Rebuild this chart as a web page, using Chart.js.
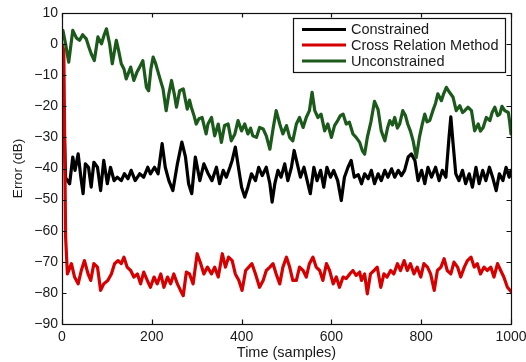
<!DOCTYPE html>
<html>
<head>
<meta charset="utf-8">
<script src="https://cdn.jsdelivr.net/npm/chart.js@4.4.1/dist/chart.umd.min.js"></script>
<style>
  html, body { margin: 0; padding: 0; background: #ffffff; }
  #c { display: block; }
</style>
</head>
<body>
<canvas id="c" width="526" height="362"></canvas>
<script>
// ---------------- data ----------------
const seriesNames = ["Constrained", "Cross Relation Method", "Unconstrained"];
const xTicks = [0, 200, 400, 600, 800, 1000];
const yTicks = [-90, -80, -70, -60, -50, -40, -30, -20, -10, 0, 10];

// Constrained (black)
const constrainedX = [0, 8, 17, 24, 29, 36, 42, 47, 52, 59, 65, 71, 79, 86, 93, 101, 108, 116, 123, 132, 139, 147, 154, 163, 173, 182, 191, 197, 206, 214, 223, 230, 238, 247, 257, 267, 275, 282, 289, 297, 307, 316, 325, 334, 344, 351, 359, 366, 374, 379, 386, 394, 400, 407, 414, 422, 431, 438, 446, 455, 463, 468, 474, 481, 488, 496, 503, 511, 517, 524, 531, 539, 546, 553, 561, 568, 576, 583, 590, 598, 605, 614, 622, 629, 637, 644, 651, 660, 667, 674, 682, 689, 696, 704, 711, 719, 726, 734, 741, 749, 756, 763, 771, 778, 786, 793, 801, 808, 815, 823, 832, 840, 847, 855, 862, 866, 871, 877, 884, 892, 899, 907, 914, 922, 929, 937, 944, 952, 959, 967, 974, 982, 989, 996, 1000];
const constrainedY = [-1, -43, -44.9, -36.3, -40.6, -35.3, -42.8, -48.1, -38.5, -39.6, -46, -38, -39.6, -47.1, -37.4, -44.9, -39.6, -43.9, -42.8, -43.9, -41.7, -43.3, -40.6, -43.9, -41.7, -42.8, -39.6, -41.7, -39.6, -41.7, -32, -39.6, -43.9, -47.1, -38.5, -31.5, -36.3, -44.9, -48.1, -36.3, -43.9, -38.5, -41.5, -43.9, -39.6, -44.9, -40.6, -42.8, -39.6, -37.4, -33.1, -40.6, -46, -49.2, -46, -41.7, -43.9, -39.6, -42.3, -39.6, -44.9, -50.8, -44.9, -40.6, -42.8, -38.5, -43.9, -39.6, -34.2, -38.5, -42.8, -39.6, -43.9, -48.1, -39.6, -43.9, -40.6, -46, -39.6, -42.8, -40.6, -43.9, -50.3, -42.8, -39.6, -37.4, -42.8, -42, -44.9, -41.7, -43.3, -40.6, -44.9, -41.7, -43.9, -40.6, -42.8, -40.1, -42.8, -40.6, -42.3, -40.6, -36.3, -35.3, -37.4, -43.9, -40.6, -44.9, -39.6, -42.8, -39.6, -43.9, -40.6, -42.8, -29.9, -23.4, -32, -41.7, -43.9, -40.6, -44.9, -41.7, -46, -39.6, -44.9, -40.6, -43.9, -39.6, -42.8, -47.1, -41.7, -43.9, -39.6, -42.8, -40.6];

// Cross Relation Method (red)
const crossX = [0, 4, 8, 12, 21, 28, 36, 43, 50, 58, 64, 71, 79, 86, 93, 102, 110, 117, 125, 132, 138, 145, 153, 160, 168, 175, 182, 190, 197, 205, 212, 220, 227, 235, 242, 249, 257, 264, 270, 277, 284, 292, 301, 309, 316, 324, 333, 340, 348, 357, 364, 371, 379, 386, 394, 401, 409, 416, 423, 431, 440, 448, 455, 463, 470, 477, 485, 492, 500, 507, 514, 522, 529, 537, 544, 551, 559, 566, 574, 581, 589, 596, 604, 611, 618, 626, 633, 641, 648, 655, 663, 667, 674, 680, 687, 695, 702, 710, 717, 724, 732, 739, 747, 754, 762, 769, 776, 784, 791, 799, 806, 814, 821, 829, 836, 844, 851, 858, 866, 873, 881, 888, 896, 903, 911, 918, 925, 932, 940, 947, 955, 962, 970, 977, 984, 992, 1000];
const crossY = [0, -2, -62, -73.9, -70.6, -74.9, -77.1, -72.8, -69.6, -73.9, -76, -70.6, -71.7, -79.2, -77.1, -76, -73.9, -70.6, -69.6, -70.6, -68.5, -71.7, -72.8, -74.9, -73.9, -77.1, -73.3, -76, -78.2, -74.9, -77.1, -73.9, -78.2, -74.9, -77.1, -73.9, -77.1, -79.2, -80.9, -73.3, -73.9, -77.1, -67.4, -70.6, -73.9, -71.7, -73.9, -71.7, -74.9, -67.4, -71.7, -68.5, -69.6, -73.9, -76, -79.2, -72.8, -71.7, -70.6, -73.9, -78.2, -76, -72.8, -71.7, -70.6, -73.9, -77.1, -71.7, -68.5, -71.7, -76, -76, -71.7, -72.8, -74.9, -70.6, -68.5, -71.7, -72.8, -76, -70.6, -72.8, -77.1, -74.9, -78.2, -74.9, -75.4, -73.9, -72.8, -74.4, -73.3, -76, -73.9, -80.3, -73.9, -72.8, -71.7, -78.2, -73.9, -74.9, -72.8, -73.9, -70.6, -72.8, -69.6, -72.8, -70.6, -73.9, -71.7, -74.9, -70.6, -71.7, -73.9, -79.2, -72.8, -71.7, -69, -72.8, -73.9, -70.1, -71.7, -74.9, -71.7, -69.6, -68.5, -71.7, -70.6, -73.9, -71.7, -72.8, -71.7, -74.9, -70.6, -72.8, -74.9, -78.2, -79.5];

// Unconstrained (green)
const unconstrainedX = [0, 2, 8, 15, 24, 32, 39, 46, 54, 60, 65, 72, 80, 88, 94, 99, 106, 112, 121, 126, 132, 138, 143, 153, 160, 167, 173, 180, 188, 193, 198, 203, 208, 214, 220, 225, 232, 238, 244, 250, 255, 262, 270, 279, 284, 288, 294, 299, 305, 312, 316, 321, 325, 333, 340, 348, 355, 362, 370, 377, 385, 392, 400, 407, 414, 420, 425, 433, 440, 448, 455, 463, 470, 477, 485, 492, 500, 507, 514, 522, 529, 537, 544, 551, 557, 563, 570, 577, 585, 592, 600, 607, 614, 620, 626, 633, 640, 648, 655, 663, 669, 674, 680, 688, 696, 704, 711, 719, 725, 730, 736, 741, 747, 752, 759, 765, 770, 776, 782, 789, 796, 802, 808, 813, 819, 826, 832, 837, 845, 850, 856, 863, 871, 878, 886, 892, 897, 904, 912, 919, 927, 932, 938, 945, 953, 958, 964, 970, 975, 980, 986, 994, 997, 1000];
const unconstrainedY = [3, 4.4, 0, -5.8, 4.4, 2, 1.2, 3, 1.7, -1, -3.1, -5.3, 2.3, 0.1, 3, 4.9, 0.1, -6.3, 1.2, -2, -6.3, -8, -11.2, -7.4, -11.7, -9, -7.4, -5.3, -13.9, -15, -8, -4.2, -6, -9, -12, -14.4, -21.4, -16, -11.7, -16, -20.3, -15, -14.4, -20.9, -18, -20.3, -23, -25.7, -24, -23.6, -26, -28.9, -25.7, -23.6, -29.5, -25.7, -31.6, -26.2, -25.7, -31.1, -28.9, -24.6, -27.9, -25.7, -28.9, -27, -29.5, -30, -26.8, -27.3, -29.5, -33.8, -27.3, -21.4, -25.7, -28.9, -26.2, -30, -31.1, -25.7, -23.6, -26.8, -23.6, -21.4, -15.5, -21.4, -23.6, -22.5, -27.9, -25.7, -30, -26.2, -24.6, -23, -22.5, -25.7, -25.1, -28.9, -30, -31.6, -34.3, -35.4, -30, -25, -18.4, -21.1, -27.9, -31.1, -27, -24.6, -26, -23.6, -27, -25.7, -21.4, -23, -25.7, -28, -31.1, -36.5, -30, -26, -22.5, -25, -24.6, -21.4, -19, -16, -18.2, -16, -13.9, -15.5, -17.1, -21.4, -19.8, -22, -21.4, -20.3, -21.4, -27.9, -25.7, -28, -26.8, -23.6, -24.6, -22, -20.3, -23, -22.5, -20, -21.4, -22, -25, -28.9];

// ---------------- chart ----------------
const FONT = '"Liberation Sans", Arial, Helvetica, sans-serif';
const TXT = '#1a1a1a';
const colors = ['#000000', '#d60000', '#1c5a1c'];

function pts(xs, ys) { return xs.map((x, i) => ({ x: x, y: ys[i] })); }
function fmt(v) { return v < 0 ? '\u2212' + Math.abs(v) : String(v); }

const framePlugin = {
  id: 'frame',
  afterDatasetsDraw(chart) {
    const { ctx, chartArea: a, scales } = chart;
    ctx.save();
    ctx.strokeStyle = '#111';
    ctx.lineWidth = 1.2;
    ctx.strokeRect(Math.round(a.left) + 0.5, Math.round(a.top) + 0.5, Math.round(a.right - a.left), Math.round(a.bottom - a.top));
    const tl = 4.5;
    ctx.beginPath();
    xTicks.forEach(v => {
      const px = Math.round(scales.x.getPixelForValue(v)) + 0.5;
      ctx.moveTo(px, a.bottom); ctx.lineTo(px, a.bottom - tl);
      ctx.moveTo(px, a.top); ctx.lineTo(px, a.top + tl);
    });
    yTicks.forEach(v => {
      const py = Math.round(scales.y.getPixelForValue(v)) + 0.5;
      ctx.moveTo(a.left, py); ctx.lineTo(a.left + tl, py);
      ctx.moveTo(a.right, py); ctx.lineTo(a.right - tl, py);
    });
    ctx.stroke();

    // legend box
    const bx = 293, by = 18, bw = 212, bh = 54;
    ctx.fillStyle = '#fff';
    ctx.fillRect(bx, by, bw, bh);
    ctx.strokeStyle = '#111';
    ctx.lineWidth = 1.2;
    ctx.strokeRect(bx + 0.5, by + 0.5, bw, bh);
    const rows = [29.5, 45, 61];
    ctx.font = '14.5px ' + FONT;
    ctx.textBaseline = 'middle';
    ctx.textAlign = 'left';
    chart.data.datasets.forEach((ds, i) => {
      ctx.strokeStyle = ds.borderColor;
      ctx.lineWidth = 3.2;
      ctx.beginPath();
      ctx.moveTo(302, rows[i]); ctx.lineTo(346, rows[i]);
      ctx.stroke();
      ctx.fillStyle = TXT;
      ctx.fillText(ds.label, 351, rows[i] + 0.5);
    });
    ctx.restore();
  }
};

new Chart(document.getElementById('c'), {
  type: 'line',
  data: {
    datasets: [
      { label: seriesNames[0], data: pts(constrainedX, constrainedY), borderColor: colors[0], order: 3 },
      { label: seriesNames[1], data: pts(crossX, crossY), borderColor: colors[1], order: 2 },
      { label: seriesNames[2], data: pts(unconstrainedX, unconstrainedY), borderColor: colors[2], order: 1 }
    ]
  },
  options: {
    responsive: false,
    devicePixelRatio: 1,
    animation: false,
    events: [],
    layout: { padding: { top: 13, right: 15, left: 0, bottom: 0 } },
    elements: {
      point: { radius: 0 },
      line: { borderWidth: 3.2, tension: 0, fill: false, borderJoinStyle: 'round', borderCapStyle: 'round' }
    },
    plugins: { legend: { display: false }, tooltip: { enabled: false } },
    scales: {
      x: {
        type: 'linear', min: 0, max: 1000,
        afterBuildTicks: s => { s.ticks = xTicks.map(v => ({ value: v })); },
        afterFit: s => { s.height = 38; s.paddingLeft = 0; s.paddingRight = 0; },
        grid: { display: false, drawTicks: false },
        border: { display: false },
        ticks: { color: TXT, font: { family: FONT, size: 14 }, padding: 5, maxRotation: 0, callback: v => fmt(v) },
        title: { display: true, text: 'Time (samples)', color: TXT, font: { family: FONT, size: 14.5 }, padding: { top: 0, bottom: 0 } }
      },
      y: {
        type: 'linear', min: -90, max: 10,
        afterBuildTicks: s => { s.ticks = yTicks.map(v => ({ value: v })); },
        afterFit: s => { s.width = 62; s.paddingTop = 0; s.paddingBottom = 0; },
        grid: { display: false, drawTicks: false },
        border: { display: false },
        ticks: { color: TXT, font: { family: FONT, size: 14 }, padding: 4, callback: v => fmt(v) },
        title: { display: true, text: 'Error (dB)', color: TXT, font: { family: FONT, size: 13.5 }, padding: { top: 10, bottom: 0 } }
      }
    }
  },
  plugins: [framePlugin]
});
</script>
</body>
</html>
